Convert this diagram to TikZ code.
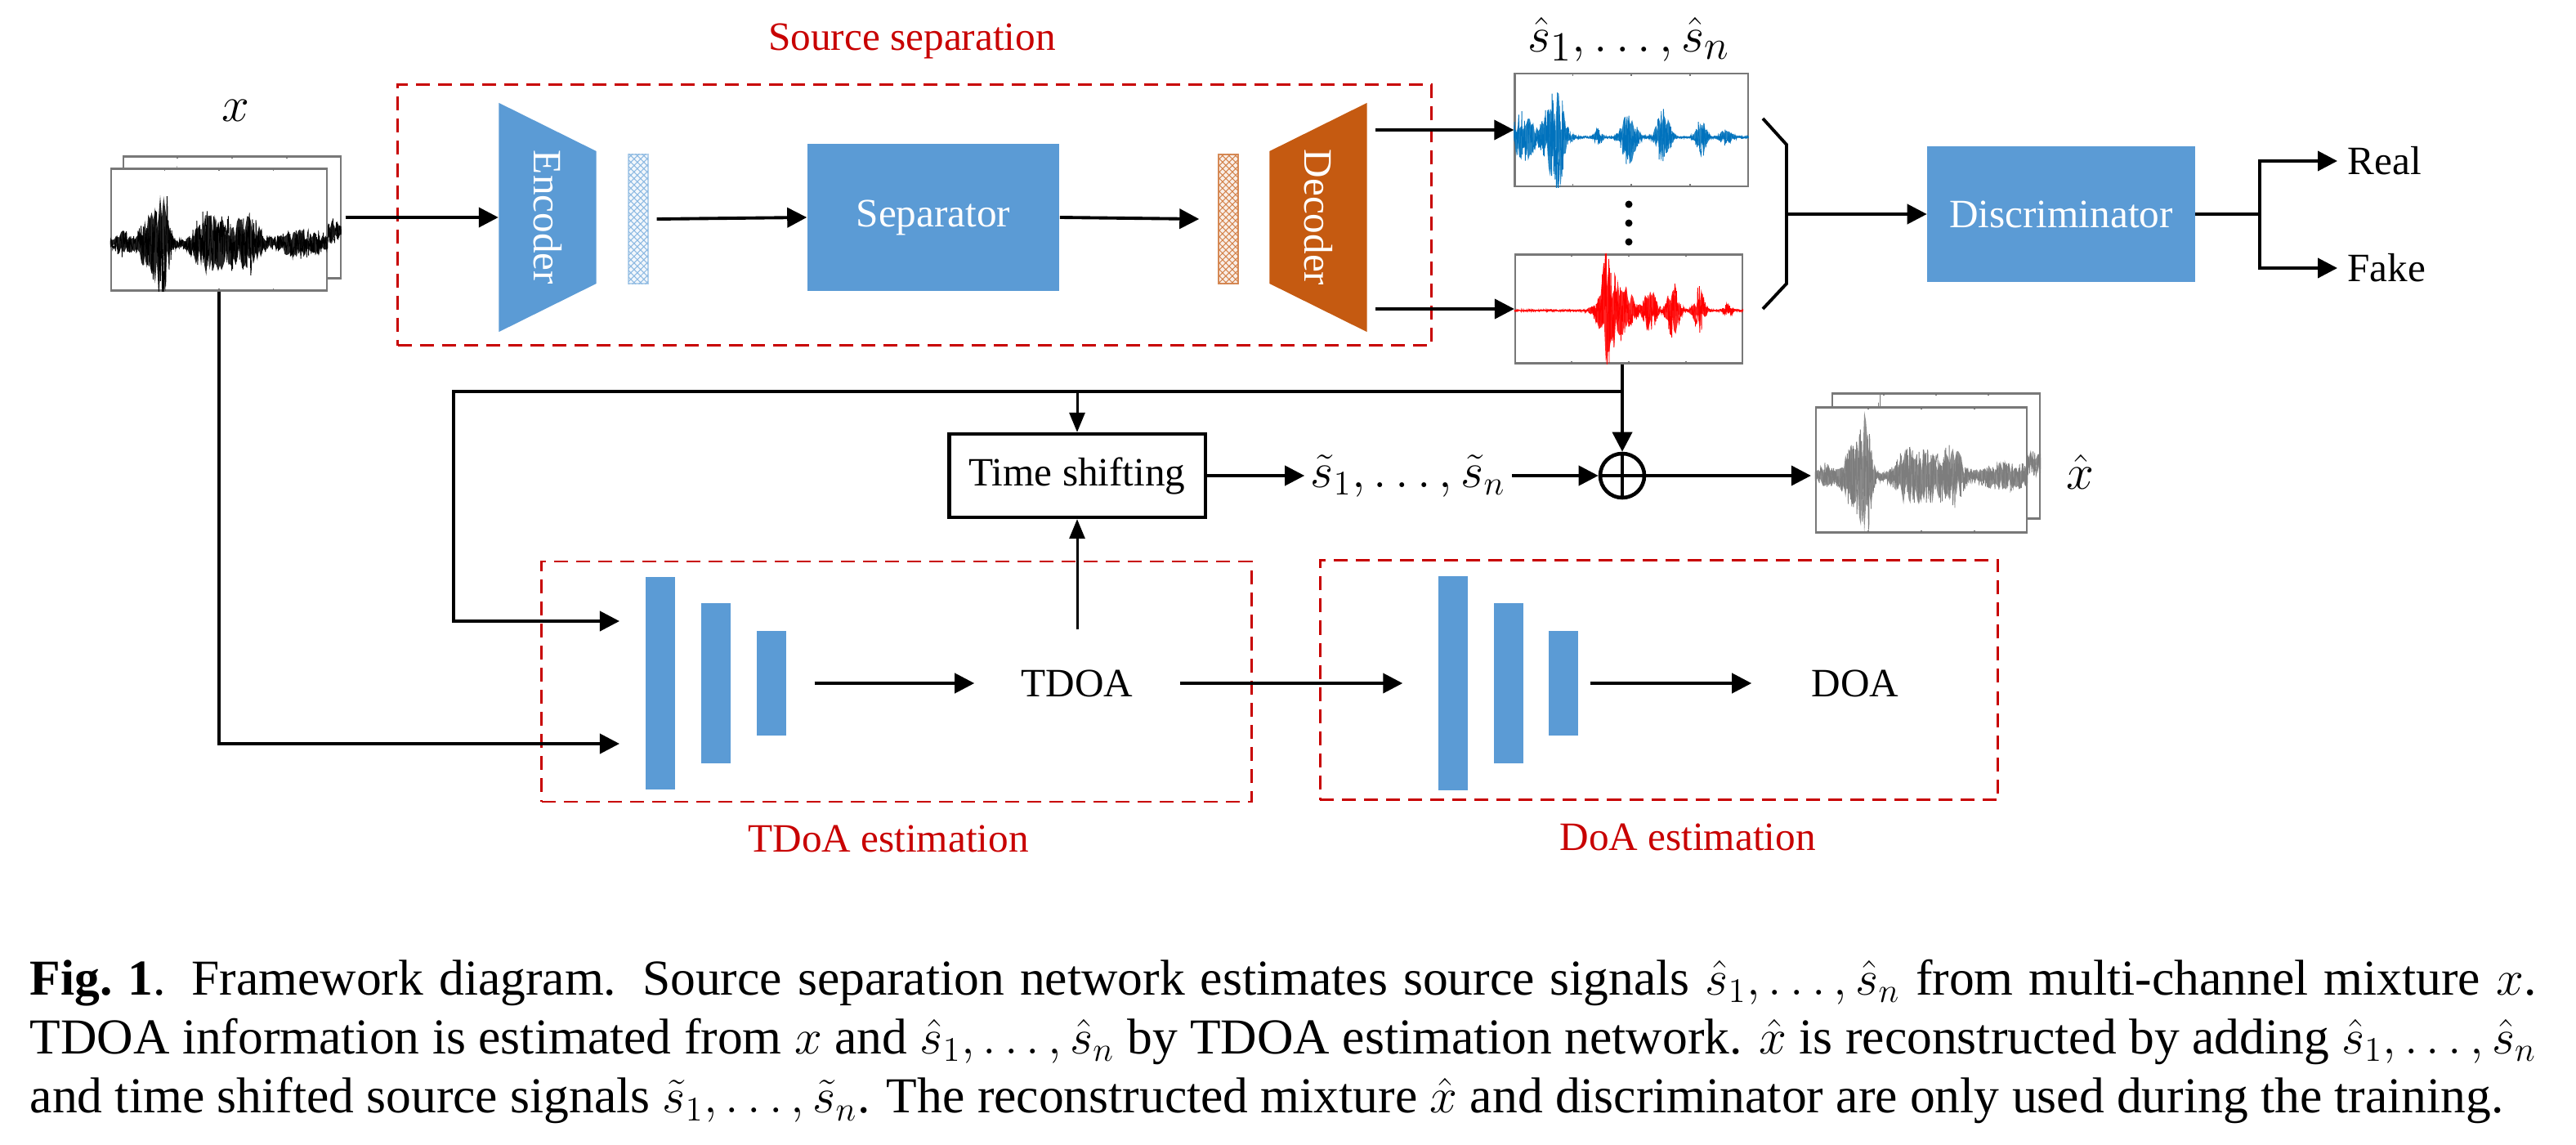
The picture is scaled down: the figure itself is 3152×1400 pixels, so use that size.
\documentclass[tikz,border=0pt]{standalone}
\usepackage{fontspec}
\setmainfont{Liberation Serif}
\usepackage{graphicx}
\usepackage{tikz}
\usetikzlibrary{shapes,arrows.meta,positioning,patterns.meta,calc}
\definecolor{blockblue}{RGB}{91,155,213}
\definecolor{decorange}{RGB}{197,90,17}
\definecolor{boxred}{RGB}{200,0,0}
\definecolor{wavblue}{RGB}{0,114,189}
\definecolor{wavred}{RGB}{255,0,0}
\definecolor{wavgray}{RGB}{125,125,125}
\definecolor{framegray}{RGB}{120,120,120}
\tikzset{declare function={g(\xa,\xc,\xw)=exp(-((\xa-\xc)/\xw)*((\xa-\xc)/\xw));}}
\tikzset{lbl/.style={font=\fontsize{14}{16.8}\selectfont}}
\tikzset{mathlbl/.style={font=\fontsize{19}{22}\selectfont,inner sep=2pt}}
\tikzset{regionlbl/.style={lbl,text=boxred}}
\tikzset{block/.style={rectangle,fill=blockblue,text=white,lbl}}
\tikzset{regionbox/.style={rectangle,draw=boxred,line width=0.75pt,dash pattern=on 0.17cm off 0.10cm}}
\tikzset{sigframe/.style={rectangle,draw=framegray,fill=white,line width=0.6pt,inner sep=0pt}}
\tikzset{convbar/.style={rectangle,fill=blockblue,minimum width=0.36cm,inner sep=0pt}}
\tikzset{codebar/.style={rectangle,minimum width=0.24cm,minimum height=1.58cm,inner sep=0pt}}
\tikzset{arrow/.style={draw,line width=1.1pt,-{Triangle[length=0.24cm,width=0.24cm]}}}
\tikzset{thinarrow/.style={draw,line width=0.85pt,-{Triangle[length=0.24cm,width=0.19cm]}}}
\tikzset{wire/.style={draw,line width=1.1pt}}
\tikzset{encoder/.style={rectangle,fill=white,inner sep=0pt,minimum width=1.19cm,minimum height=2.8cm,text=white,lbl,
  path picture={\fill[blockblue] (path picture bounding box.north west) -- ([yshift=-0.59cm]path picture bounding box.north east)
  -- ([yshift=0.59cm]path picture bounding box.south east) -- (path picture bounding box.south west) -- cycle;}}}
\tikzset{decoder/.style={rectangle,fill=white,inner sep=0pt,minimum width=1.19cm,minimum height=2.8cm,text=white,lbl,
  path picture={\fill[decorange] ([yshift=-0.59cm]path picture bounding box.north west) -- (path picture bounding box.north east)
  -- (path picture bounding box.south east) -- ([yshift=0.59cm]path picture bounding box.south west) -- cycle;}}}
\tikzset{sumnode/.style={circle,draw,line width=1.3pt,minimum size=0.54cm,inner sep=0pt,
  path picture={\draw[line width=1.1pt] (path picture bounding box.north) -- (path picture bounding box.south)
  (path picture bounding box.west) -- (path picture bounding box.east);}}}

% waveform inside a signal frame: node, colour, offset, envelope
\newcommand{\wavein}[4]{%
  \begin{scope}
    \clip (#1.south west) rectangle (#1.north east);
    \fill[#2,opacity=0.85,shift={(#1.center)}] plot[domain=-145:145,samples=140] (\x,{#3-(#4)*(0.55+0.45*rand)})
      -- plot[domain=145:-145,samples=140] (\x,{#3+(#4)*(0.55+0.45*rand)}) -- cycle;
    \draw[#2,line width=0.25pt,shift={(#1.center)}] plot[domain=-145:145,samples=550] (\x,{#3+(#4)*rand});
  \end{scope}
  \foreach \f in {0.25,0.5,0.75}{
    \draw[framegray,line width=0.4pt] ($(#1.south west)!\f!(#1.south east)$) -- ++(0,-4);
    \draw[framegray,line width=0.4pt] ($(#1.north west)!\f!(#1.north east)$) -- ++(0,4);
  }}
\newcommand{\mixenv}{4+13*g(\x,-118,10)+75*g(\x,-68,7)+38*g(\x,-82,16)+24*g(\x,-20,14)+30*g(\x,10,30)+24*g(\x,40,12)+15*g(\x,100,28)+5*g(\x,125,6)}

\begin{document}
\begin{tikzpicture}[x=0.01cm,y=-0.01cm]
    \useasboundingbox (0,0) rectangle (3152,1400);
    \pgfmathsetseed{4242}

    % mixture
    \node[sigframe,minimum width=2.65cm,minimum height=1.49cm] (mixb) at (284,266) {};
    \wavein{mixb}{black}{17}{\mixenv}
    \node[sigframe,minimum width=2.64cm,minimum height=1.49cm] (mix) at (268,281) {};
    \wavein{mix}{black}{17}{\mixenv}
    \node[mathlbl] (xlbl) at (288,135) {$x$};

    % source separation
    \node[regionbox,minimum width=12.64cm,minimum height=3.19cm] (ssbox) at (1119,263) {};
    \node[regionlbl] (sslbl) at (1116,50) {Source separation};
    \node[encoder] (enc) at (670,266) {\rotatebox{-90}{Encoder}};
    \node[codebar,draw=blockblue!45,fill=blockblue!8,
      postaction={pattern={Hatch[angle=45,distance=1.6pt,line width=0.3pt]},pattern color=blockblue!70}] (encbar) at (781,268) {};
    \node[block,minimum width=3.08cm,minimum height=1.8cm] (sep) at (1142,266) {Separator};
    \node[codebar,draw=decorange!70,fill=decorange!10,
      postaction={pattern={Hatch[angle=45,distance=1.6pt,line width=0.3pt]},pattern color=decorange!75}] (decbar) at (1503,268) {};
    \node[decoder] (dec) at (1613,266) {\rotatebox{-90}{Decoder}};

    % separated sources
    \node[sigframe,minimum width=2.85cm,minimum height=1.38cm] (s1) at (1996,159) {};
    \wavein{s1}{wavblue}{9}{1.5+32*g(\x,-132,14)+52*g(\x,-95,14)+34*g(\x,-88,5)+10*g(\x,-40,5)+35*g(\x,-3,10)+35*g(\x,39,9)+24*g(\x,86,7)+9*g(\x,116,8)}
    \node[sigframe,minimum width=2.78cm,minimum height=1.33cm] (sn) at (1993,378) {};
    \wavein{sn}{wavred}{2}{1.5+32*g(\x,-28,5)+43*g(\x,-25,14)+26*g(\x,-5,14)+30*g(\x,26,8)+36*g(\x,54,8)+29*g(\x,86,7)+8*g(\x,121,5)}
    \node[mathlbl] (shatlbl) at (1993,48) {$\hat{s}_1,\ldots,\hat{s}_n$};
    \foreach \d in {250,273,296}
        \fill (1993,\d) circle (0.045cm);

    % discriminator
    \coordinate (brtop) at (2157,145);
    \coordinate (brup) at (2186,177);
    \coordinate (brmid) at (2186,262);
    \coordinate (brlow) at (2186,347);
    \coordinate (brbot) at (2157,378);
    \node[block,minimum width=3.27cm,minimum height=1.66cm] (disc) at (2522,262) {Discriminator};
    \coordinate (split) at (2765,262);
    \node[lbl,anchor=west] (real) at (2860,197) {Real};
    \node[lbl,anchor=west] (fake) at (2860,328) {Fake};

    % time shifting and reconstruction
    \node[lbl,rectangle,draw,line width=1.2pt,minimum width=3.13cm,minimum height=1.02cm] (ts) at (1318,582) {Time shifting};
    \node[mathlbl,font=\fontsize{18}{21}\selectfont] (stil) at (1723,582) {$\tilde{s}_1,\ldots,\tilde{s}_n$};
    \node[sumnode] (sum) at (1985,582) {};
    \node[sigframe,minimum width=2.54cm,minimum height=1.53cm] (xhatb) at (2369,558) {};
    \wavein{xhatb}{wavgray}{8}{\mixenv}
    \node[sigframe,minimum width=2.58cm,minimum height=1.53cm] (xhat) at (2351,575) {};
    \wavein{xhat}{wavgray}{8}{\mixenv}
    \node[mathlbl] (xhatlbl) at (2545,577) {$\hat{x}$};

    % TDoA estimation
    \node[regionbox,minimum width=8.68cm,minimum height=2.94cm] (tdoabox) at (1097,834) {};
    \node[regionlbl] (tdoalbl) at (1087,1026) {TDoA estimation};
    \node[convbar,minimum height=2.6cm] (tb1) at (808,836) {};
    \node[convbar,minimum height=1.96cm] (tb2) at (876,836) {};
    \node[convbar,minimum height=1.28cm] (tb3) at (944,836) {};
    \node[lbl,minimum width=2.5cm,minimum height=1.3cm] (tdoa) at (1318,836) {TDOA};

    % DoA estimation
    \node[regionbox,minimum width=8.29cm,minimum height=2.93cm] (doabox) at (2030,832) {};
    \node[regionlbl] (doalbl) at (2065,1024) {DoA estimation};
    \node[convbar,minimum height=2.61cm] (db1) at (1778,836) {};
    \node[convbar,minimum height=1.95cm] (db2) at (1846,836) {};
    \node[convbar,minimum height=1.28cm] (db3) at (1913,836) {};
    \node[lbl,minimum width=2.52cm,minimum height=1.3cm] (doa) at (2270,836) {DOA};

    \coordinate (junc) at (1985,479);
    \coordinate (tcorner) at (555,479);
    \coordinate (tin1) at (758,760);
    \coordinate (tin2) at (758,910);

        \path[arrow] ([xshift=0.5mm]mixb.east) -- (enc.west);
        \path[arrow] ([xshift=1mm]encbar.east) -- (sep.west);
        \path[arrow] (sep.east) -- ([xshift=-2.3mm]decbar.west);
        \path[arrow] ([xshift=1mm]dec.east |- s1.west) -- (s1.west);
        \path[arrow] ([xshift=1mm]dec.east |- sn.west) -- (sn.west);
        \path[wire] (brtop) -- (brup) -- (brlow) -- (brbot);
        \path[arrow] (brmid) -- (disc.west);
        \path[wire] (disc.east) -- (split);
        \path[arrow] (split) |- (real.west);
        \path[arrow] (split) |- (fake.west);
        \path[arrow] (sum.north |- sn.south) -- (sum.north);
        \path[arrow] (junc) -- (tcorner) |- (tin1);
        \path[thinarrow] (ts.north |- junc) -- (ts.north);
        \path[arrow] (mix.south) |- (tin2);
        \path[arrow] ([xshift=3.4mm]tb3.east) -- (tdoa.west);
        \path[thinarrow] (tdoa.north) -- (ts.south);
        \path[arrow] (tdoa.east) -- ([xshift=-4.3mm]db1.west);
        \path[arrow] ([xshift=1.4mm]db3.east) -- (doa.west);
        \path[arrow] (ts.east) -- (stil.west);
        \path[arrow] (stil.east) -- (sum.west);
        \path[arrow] (sum.east) -- ([xshift=-0.5mm]sum.east -| xhat.west);

    % caption
    \node[anchor=north west,inner sep=0pt,text width=30.65cm,align=justify,font=\fontsize{17.5}{20.6}\selectfont] (caption) at (36,1173)
      {\textbf{Fig.\ 1}.  Framework diagram.  Source separation network estimates source signals $\hat{s}_1,\ldots,\hat{s}_n$ from multi-channel mixture $x$.\linebreak
       TDOA information is estimated from $x$ and $\hat{s}_1,\ldots,\hat{s}_n$ by TDOA estimation network. $\hat{x}$ is reconstructed by adding $\hat{s}_1,\ldots,\hat{s}_n$\linebreak
       and time shifted source signals $\tilde{s}_1,\ldots,\tilde{s}_n$. The reconstructed mixture $\hat{x}$ and discriminator are only used during the training.};
\end{tikzpicture}
\end{document}
